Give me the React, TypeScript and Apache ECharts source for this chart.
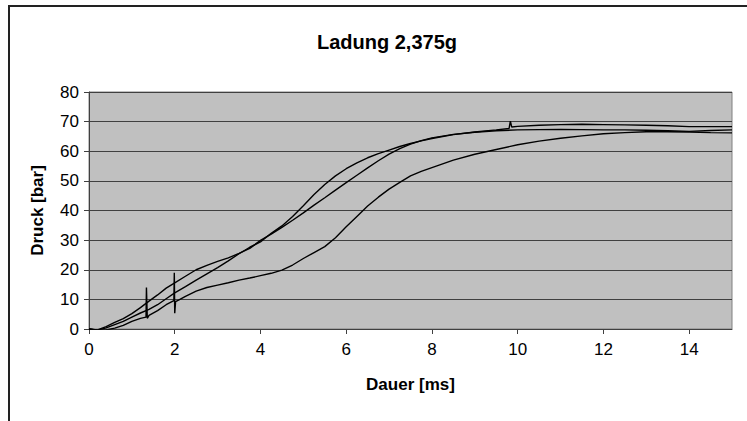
import React, { useEffect, useRef } from "react";
import * as echarts from "echarts";

const titleText = "Ladung 2,375g";
const xName = "Dauer [ms]";
const yName = "Druck [bar]";

// Curve A (upper at start, slower in the middle)
const aX = [0, 0.2, 0.4, 0.6, 0.8, 1.0, 1.2, 1.4, 1.6, 1.8, 2.0, 2.25, 2.5, 2.75, 3.0, 3.25, 3.5, 3.75, 4.0, 4.25, 4.5, 4.75, 5.0, 5.25, 5.5, 5.75, 6.0, 6.25, 6.5, 6.75, 7.0, 7.25, 7.5, 7.75, 8.0, 8.5, 9.0, 9.5, 10, 10.5, 11, 11.5, 12, 12.5, 13, 13.5, 14, 14.5, 15];
const aY = [0, -0.3, 0.8, 2.2, 3.5, 5.2, 7.2, 9.4, 11.5, 13.8, 15.6, 17.8, 20.0, 21.5, 22.8, 24.0, 25.5, 27.2, 29.9, 32.0, 34.3, 36.7, 39.2, 41.8, 44.3, 46.9, 49.4, 51.9, 54.4, 56.8, 59.0, 60.9, 62.4, 63.6, 64.5, 65.7, 66.4, 66.9, 67.2, 67.3, 67.4, 67.3, 67.2, 67.2, 67.1, 66.9, 66.7, 67.0, 67.2];

// Curve B (lower at start, steepest in the middle)
const bX = [0, 0.2, 0.4, 0.6, 0.8, 1.0, 1.2, 1.4, 1.6, 1.8, 2.0, 2.25, 2.5, 2.75, 3.0, 3.25, 3.5, 3.75, 4.0, 4.25, 4.5, 4.75, 5.0, 5.25, 5.5, 5.75, 6.0, 6.25, 6.5, 6.75, 7.0, 7.25, 7.5, 7.75, 8.0, 8.5, 9.0, 9.5, 9.8, 9.83, 9.86, 10, 10.5, 11, 11.5, 12, 12.5, 13, 13.5, 14, 14.5, 15];
const bY = [0, -0.4, 0.4, 1.5, 2.6, 4.0, 5.4, 6.6, 8.2, 10.2, 12.2, 14.3, 16.5, 18.6, 20.7, 23.0, 25.4, 27.6, 29.4, 32.3, 34.8, 38.0, 41.6, 45.4, 48.8, 51.7, 54.1, 56.1, 57.8, 59.2, 60.4, 61.6, 62.6, 63.5, 64.3, 65.6, 66.5, 67.2, 67.7, 70.2, 68.2, 68.4, 68.8, 69.0, 69.1, 69.0, 68.9, 68.8, 68.6, 68.3, 68.3, 68.3];

// Curve C (lowest, latest rise, with two spikes)
const cX = [0, 0.2, 0.4, 0.6, 0.8, 1.0, 1.2, 1.33, 1.34, 1.36, 1.4, 1.6, 1.8, 1.98, 1.99, 2.0, 2.02, 2.1, 2.25, 2.5, 2.75, 3.0, 3.25, 3.5, 3.75, 4.0, 4.25, 4.5, 4.75, 5.0, 5.25, 5.5, 5.75, 6.0, 6.25, 6.5, 6.75, 7.0, 7.25, 7.5, 7.75, 8.0, 8.5, 9.0, 9.5, 10, 10.5, 11, 11.5, 12, 12.5, 13, 13.5, 14, 14.5, 15];
const cY = [0, -0.5, -0.3, 0.3, 1.2, 2.6, 3.6, 4.0, 14.0, 3.6, 4.6, 6.2, 8.2, 9.6, 19.0, 5.3, 9.2, 9.8, 11.0, 12.8, 14.0, 14.8, 15.6, 16.5, 17.2, 18.0, 18.8, 19.9, 21.6, 23.8, 25.8, 27.8, 30.8, 34.5, 38.0, 41.5, 44.5, 47.2, 49.5, 51.7, 53.2, 54.5, 57.0, 59.0, 60.6, 62.2, 63.4, 64.4, 65.2, 65.9, 66.3, 66.6, 66.6, 66.5, 66.3, 66.2];

const pairs = (xs: number[], ys: number[]) => xs.map((x, i) => [x, ys[i]]);

export default function App() {
  const ref = useRef<HTMLDivElement>(null);
  useEffect(() => {
    document.body.style.margin = "0";
    const chart = echarts.init(ref.current!, null, { renderer: "svg" });
    const font = "'Liberation Sans', Arial, sans-serif";
    const line = (name: string, data: number[][]) => ({
      name,
      type: "line",
      data,
      showSymbol: false,
      symbol: "none",
      lineStyle: { color: "#000", width: 1.4 },
      z: 3,
    });
    chart.setOption({
      animation: false,
      backgroundColor: "#fff",
      title: {
        text: titleText,
        left: 382,
        top: 27,
        textAlign: "center",
        textStyle: { fontFamily: font, fontSize: 20, fontWeight: "bold", color: "#000" },
      },
      graphic: [
        {
          type: "rect",
          shape: { x: 9, y: 6, width: 800, height: 520 },
          style: { fill: "none", stroke: "#222", lineWidth: 2 },
          silent: true,
          z: -1,
        },
      ],
      grid: {
        left: 89,
        top: 92,
        right: 15,
        bottom: 92,
        show: true,
        backgroundColor: "#C0C0C0",
        borderColor: "#808080",
        borderWidth: 1,
      },
      xAxis: {
        type: "value",
        min: 0,
        max: 15,
        interval: 2,
        name: xName,
        nameLocation: "middle",
        nameGap: 47,
        nameTextStyle: { fontFamily: font, fontSize: 17, fontWeight: "bold", color: "#000" },
        axisLine: { show: true, onZero: false, lineStyle: { color: "#404040", width: 1 } },
        axisTick: { show: true, length: 5, lineStyle: { color: "#404040" } },
        axisLabel: { fontFamily: font, fontSize: 17, color: "#000", margin: 12, showMaxLabel: false },
        splitLine: { show: false },
      },
      yAxis: {
        type: "value",
        min: 0,
        max: 80,
        interval: 10,
        name: yName,
        nameLocation: "middle",
        nameGap: 43,
        nameTextStyle: { fontFamily: font, fontSize: 17, fontWeight: "bold", color: "#000" },
        axisLine: { show: true, lineStyle: { color: "#404040", width: 1 } },
        axisTick: { show: true, length: 5, lineStyle: { color: "#404040" } },
        axisLabel: { fontFamily: font, fontSize: 17, color: "#000", margin: 10 },
        splitLine: { show: true, lineStyle: { color: "#404040", width: 1.2 } },
      },
      series: [line("A", pairs(aX, aY)), line("B", pairs(bX, bY)), line("C", pairs(cX, cY))],
    });
    return () => chart.dispose();
  }, []);
  return <div ref={ref} style={{ width: 747, height: 421 }} />;
}
